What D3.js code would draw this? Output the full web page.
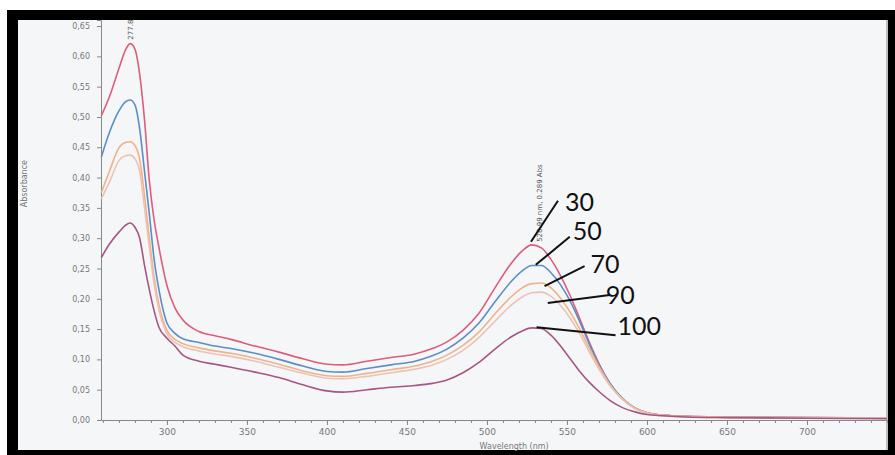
<!DOCTYPE html>
<html>
<head>
<meta charset="utf-8">
<script src="https://cdn.jsdelivr.net/npm/d3@7"></script>
<style>
  body { margin: 0; background: #fff; }
  svg { display: block; }
  .axis text { font-family: "DejaVu Sans", sans-serif; fill: #777; }
  .axis path, .axis line { stroke: #888; }
</style>
</head>
<body>
<svg id="chart" width="895" height="455"></svg>
<script>
// wavelengths (nm) shared by all spectra
const wavelengths = [259, 264, 270, 274, 277, 280, 283, 286, 289, 292, 295, 300, 305, 310, 320, 330, 340, 355, 370, 385, 400, 410, 425, 440, 455, 465, 475, 485, 495, 505, 515, 522, 528, 534, 540, 546, 552, 558, 564, 570, 577, 585, 593, 600, 610, 625, 650, 700, 750];

const seriesNames = ["30", "50", "70", "90", "100"];

const abs30 = [0.502, 0.533, 0.580, 0.610, 0.621, 0.612, 0.570, 0.495, 0.395, 0.330, 0.285, 0.222, 0.185, 0.165, 0.146, 0.139, 0.133, 0.122, 0.112, 0.101, 0.092, 0.091, 0.097, 0.103, 0.109, 0.117, 0.129, 0.148, 0.176, 0.218, 0.258, 0.279, 0.289, 0.284, 0.265, 0.238, 0.205, 0.167, 0.128, 0.093, 0.060, 0.034, 0.019, 0.012, 0.008, 0.006, 0.005, 0.004, 0.003];
const abs50 = [0.434, 0.474, 0.510, 0.525, 0.528, 0.520, 0.480, 0.410, 0.340, 0.265, 0.215, 0.160, 0.143, 0.134, 0.128, 0.122, 0.118, 0.110, 0.100, 0.089, 0.080, 0.079, 0.085, 0.091, 0.097, 0.105, 0.117, 0.135, 0.160, 0.195, 0.228, 0.246, 0.255, 0.255, 0.243, 0.223, 0.196, 0.162, 0.125, 0.091, 0.060, 0.035, 0.019, 0.012, 0.008, 0.006, 0.005, 0.004, 0.003];
const abs70 = [0.375, 0.410, 0.449, 0.458, 0.459, 0.453, 0.430, 0.370, 0.300, 0.235, 0.190, 0.148, 0.133, 0.126, 0.119, 0.114, 0.110, 0.102, 0.092, 0.081, 0.073, 0.072, 0.077, 0.083, 0.089, 0.096, 0.107, 0.123, 0.145, 0.175, 0.203, 0.218, 0.225, 0.226, 0.218, 0.201, 0.178, 0.150, 0.118, 0.088, 0.058, 0.034, 0.019, 0.012, 0.008, 0.006, 0.005, 0.004, 0.003];
const abs90 = [0.365, 0.392, 0.428, 0.436, 0.437, 0.431, 0.410, 0.350, 0.285, 0.225, 0.182, 0.142, 0.128, 0.121, 0.114, 0.109, 0.105, 0.097, 0.087, 0.077, 0.069, 0.068, 0.072, 0.078, 0.084, 0.090, 0.100, 0.115, 0.136, 0.163, 0.189, 0.203, 0.210, 0.211, 0.204, 0.189, 0.168, 0.142, 0.112, 0.084, 0.056, 0.033, 0.018, 0.011, 0.007, 0.005, 0.004, 0.003, 0.003];
const abs100 = [0.268, 0.290, 0.310, 0.321, 0.325, 0.318, 0.300, 0.255, 0.215, 0.180, 0.153, 0.135, 0.122, 0.107, 0.097, 0.092, 0.087, 0.079, 0.070, 0.058, 0.048, 0.046, 0.050, 0.054, 0.057, 0.060, 0.066, 0.078, 0.095, 0.117, 0.137, 0.147, 0.152, 0.151, 0.140, 0.122, 0.101, 0.080, 0.062, 0.047, 0.032, 0.020, 0.013, 0.009, 0.007, 0.005, 0.004, 0.003, 0.002];

const seriesValues = [abs30, abs50, abs70, abs90, abs100];
const seriesColors = ["#dc5d7c", "#5b8ec6", "#f0b286", "#ecc2b4", "#a65682"];

// where each leader line touches its curve (nm, Abs)
const labelAnchorNm = [527.5, 530.5, 536, 538, 531];
const labelAnchorAbs = [0.294, 0.256, 0.221, 0.193, 0.153];

const yTicks = [0, 0.05, 0.10, 0.15, 0.20, 0.25, 0.30, 0.35, 0.40, 0.45, 0.50, 0.55, 0.60, 0.65];
const xMajorTicks = [300, 350, 400, 450, 500, 550, 600, 650, 700];
const xMinorTicks = d3.range(260, 751, 10);

const peakUV = {nm: 277, abs: 0.621, text: "277.8"};
const peakVis = {nm: 528.99, abs: 0.289, text: "528.99 nm, 0.289 Abs"};

const svg = d3.select("#chart");
const W = +svg.attr("width"), H = +svg.attr("height");

// photo frame
svg.append("rect").attr("x", 7).attr("y", 10).attr("width", W - 7).attr("height", H - 10).attr("fill", "#000");
svg.append("rect").attr("x", 18).attr("y", 20).attr("width", 870).attr("height", 430).attr("fill", "#f5f6f8");

const margin = {left: 101, right: 8, top: 20, bottom: 35};
const x = d3.scaleLinear().domain([258.8, 750]).range([margin.left, W - margin.right]);
const y = d3.scaleLinear().domain([0, 0.66]).range([H - margin.bottom, margin.top]);

const g = svg.append("g");

// axes
g.append("g")
  .attr("class", "axis")
  .attr("transform", `translate(${margin.left},0)`)
  .call(d3.axisLeft(y).tickValues(yTicks).tickSize(4).tickPadding(7)
    .tickFormat(d => d3.format(".2f")(d).replace(".", ",")))
  .call(a => a.selectAll("text").attr("font-size", 8));

g.append("g")
  .attr("class", "axis")
  .attr("transform", `translate(0,${y(0)})`)
  .call(d3.axisBottom(x).tickValues(xMinorTicks).tickSize(3).tickFormat(""))
  .call(a => a.select(".domain").remove());

g.append("g")
  .attr("class", "axis")
  .attr("transform", `translate(0,${y(0)})`)
  .call(d3.axisBottom(x).tickValues(xMajorTicks).tickSize(5).tickPadding(4).tickSizeOuter(0))
  .call(a => a.selectAll("text").attr("font-size", 9));

// right frame line
g.append("line")
  .attr("x1", x(750)).attr("x2", x(750))
  .attr("y1", margin.top).attr("y2", 450)
  .attr("stroke", "#999").attr("stroke-width", 1.2);

// axis titles
g.append("text")
  .attr("transform", `translate(27,${y(0.39)}) rotate(-90)`)
  .attr("text-anchor", "middle")
  .attr("font-family", "DejaVu Sans, sans-serif")
  .attr("font-size", 8).attr("fill", "#777")
  .text("Absorbance");

g.append("text")
  .attr("x", x(517)).attr("y", 449)
  .attr("text-anchor", "middle")
  .attr("font-family", "DejaVu Sans, sans-serif")
  .attr("font-size", 8).attr("fill", "#777")
  .text("Wavelength (nm)");

// spectra
const line = d3.line()
  .x((d, i) => x(wavelengths[i]))
  .y(d => y(d))
  .curve(d3.curveMonotoneX);

g.selectAll(".spectrum")
  .data(seriesValues)
  .enter().append("path")
    .attr("class", "spectrum")
    .attr("fill", "none")
    .attr("stroke", (d, i) => seriesColors[i])
    .attr("stroke-width", 1.6)
    .attr("stroke-linejoin", "round")
    .attr("d", line);

// peak annotations (vertical)
g.append("text")
  .attr("transform", `translate(${x(peakUV.nm) + 3},${y(peakUV.abs) - 4}) rotate(-90)`)
  .attr("font-family", "DejaVu Sans, sans-serif")
  .attr("font-size", 7).attr("fill", "#555")
  .text(peakUV.text);

g.append("text")
  .attr("transform", `translate(${x(peakVis.nm) + 9},${y(peakVis.abs) - 3}) rotate(-90)`)
  .attr("font-family", "DejaVu Sans, sans-serif")
  .attr("font-size", 7).attr("fill", "#555")
  .text(peakVis.text);

// series labels with leader lines
const labelDx = [27, 34, 40, 62, 79];
const labelDy = [-41, -28, -20, -8, 8];
const textDx = [7, 3, 6, -4, 2];
const textDy = [10, 3, 7, 9, 0];

const labels = g.selectAll(".lbl")
  .data(seriesNames)
  .enter().append("g")
    .attr("class", "lbl");

labels.append("line")
  .attr("x1", (d, i) => x(labelAnchorNm[i]))
  .attr("y1", (d, i) => y(labelAnchorAbs[i]))
  .attr("x2", (d, i) => x(labelAnchorNm[i]) + labelDx[i])
  .attr("y2", (d, i) => y(labelAnchorAbs[i]) + labelDy[i])
  .attr("stroke", "#111").attr("stroke-width", 2);

labels.append("text")
  .attr("x", (d, i) => x(labelAnchorNm[i]) + labelDx[i] + textDx[i])
  .attr("y", (d, i) => y(labelAnchorAbs[i]) + labelDy[i] + textDy[i])
  .attr("font-family", "Lato, sans-serif")
  .attr("font-size", 25)
  .attr("fill", "#111")
  .text(d => d);
</script>
</body>
</html>
